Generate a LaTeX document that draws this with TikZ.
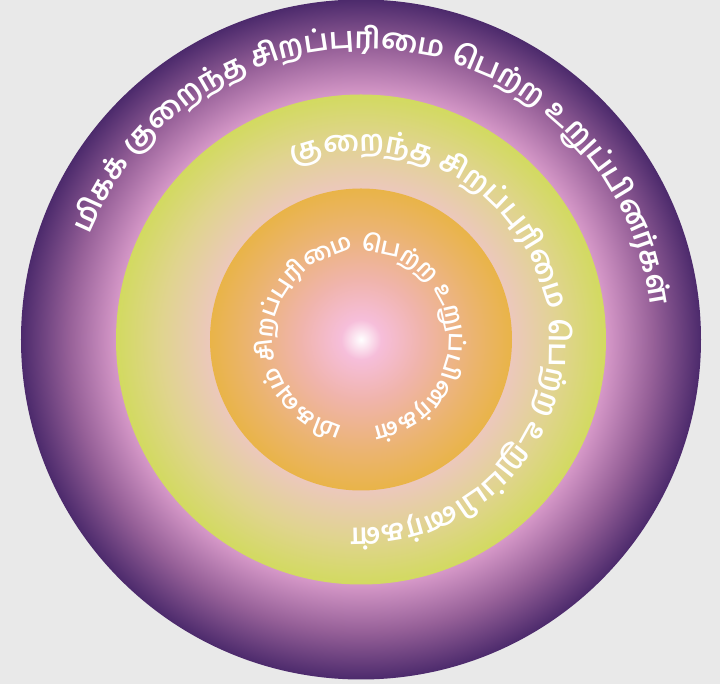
\documentclass[tikz,border=0pt]{standalone}
\usepackage{fontspec}
\newfontfamily\tamilfont[Script=Tamil]{Hind Madurai}
\usetikzlibrary{decorations.text}

% colours of the three rings
\definecolor{bgc}{HTML}{E9E9E9}
\definecolor{outA}{RGB}{236,190,222}
\definecolor{outB}{RGB}{214,152,200}
\definecolor{outC}{RGB}{150,96,152}
\definecolor{outD}{RGB}{76,42,108}
\definecolor{midA}{RGB}{240,196,206}
\definecolor{midB}{RGB}{236,200,188}
\definecolor{midC}{RGB}{224,212,142}
\definecolor{midD}{RGB}{210,218,96}
\definecolor{inA}{RGB}{255,255,255}
\definecolor{inB}{RGB}{246,190,218}
\definecolor{inC}{RGB}{240,180,172}
\definecolor{inD}{RGB}{235,180,110}
\definecolor{inE}{RGB}{233,180,72}

\pgfdeclareradialshading{outerring}{\pgfpoint{0bp}{0bp}}{%
  color(0bp)=(outA); color(18bp)=(outB); color(21.5bp)=(outC);
  color(25bp)=(outD); color(50bp)=(outD)}
\pgfdeclareradialshading{middlering}{\pgfpoint{0bp}{0bp}}{%
  color(0bp)=(midA); color(15.4bp)=(midB); color(20.4bp)=(midC);
  color(25bp)=(midD); color(50bp)=(midD)}
\pgfdeclareradialshading{innerring}{\pgfpoint{0bp}{0bp}}{%
  color(0bp)=(inA); color(3.3bp)=(inB); color(10bp)=(inC);
  color(19bp)=(inD); color(25bp)=(inE); color(50bp)=(inE)}

\newcommand\ringfontA{\tamilfont\bfseries\fontsize{29.5}{34}\selectfont}
\newcommand\ringfontB{\tamilfont\bfseries\fontsize{29}{34}\selectfont}
\newcommand\ringfontC{\tamilfont\bfseries\fontsize{23.5}{28}\selectfont}

\begin{document}
\begin{tikzpicture}[x=1pt,y=1pt]
  \tikzset{
    ringtext/.style={decorate, decoration={text along path, text align=center, text color=white}}
  }

  % Background
  \fill[bgc] (-361,-344.5) rectangle (359,339.5);
  \useasboundingbox (-361,-344.5) rectangle (359,339.5);

  % Outer ring
  \def\r{340}
  \shade[shading=outerring] (0,0) circle[radius=\r];
  \path[ringtext, decoration={text={|\ringfontA|{மி}{க}{க்} {கு}{றை}{ந்}{த} {சி}{ற}{ப்}{பு}{ரி}{மை} {பெ}{ற்}{ற} {உ}{று}{ப்}{பி}{ன}{ர்}{க}{ள்}{}}}]
    (202.8:291) arc[start angle=202.8, end angle=-37.2, radius=291];

  % Middle ring
  \def\r{245}
  \shade[shading=middlering] (0,0) circle[radius=\r];
  \path[ringtext, decoration={text={|\ringfontB|{கு}{றை}{ந்}{த} {சி}{ற}{ப்}{பு}{ரி}{மை} {பெ}{ற்}{ற} {உ}{று}{ப்}{பி}{ன}{ர்}{க}{ள்}{}}}]
    (159:188) arc[start angle=159, end angle=-141, radius=188];

  % Inner ring
  \def\r{151}
  \shade[shading=innerring] (0,0) circle[radius=\r];
  \path[ringtext, decoration={text={|\ringfontC|{மி}{க}{வு}{ம்} {சி}{ற}{ப்}{பு}{ரி}{மை} {பெ}{ற்}{ற} {உ}{று}{ப்}{பி}{ன}{ர்}{க}{ள்}{}}}]
    (266.85:88) arc[start angle=266.85, end angle=-91.15, radius=88];

\end{tikzpicture}
\end{document}
